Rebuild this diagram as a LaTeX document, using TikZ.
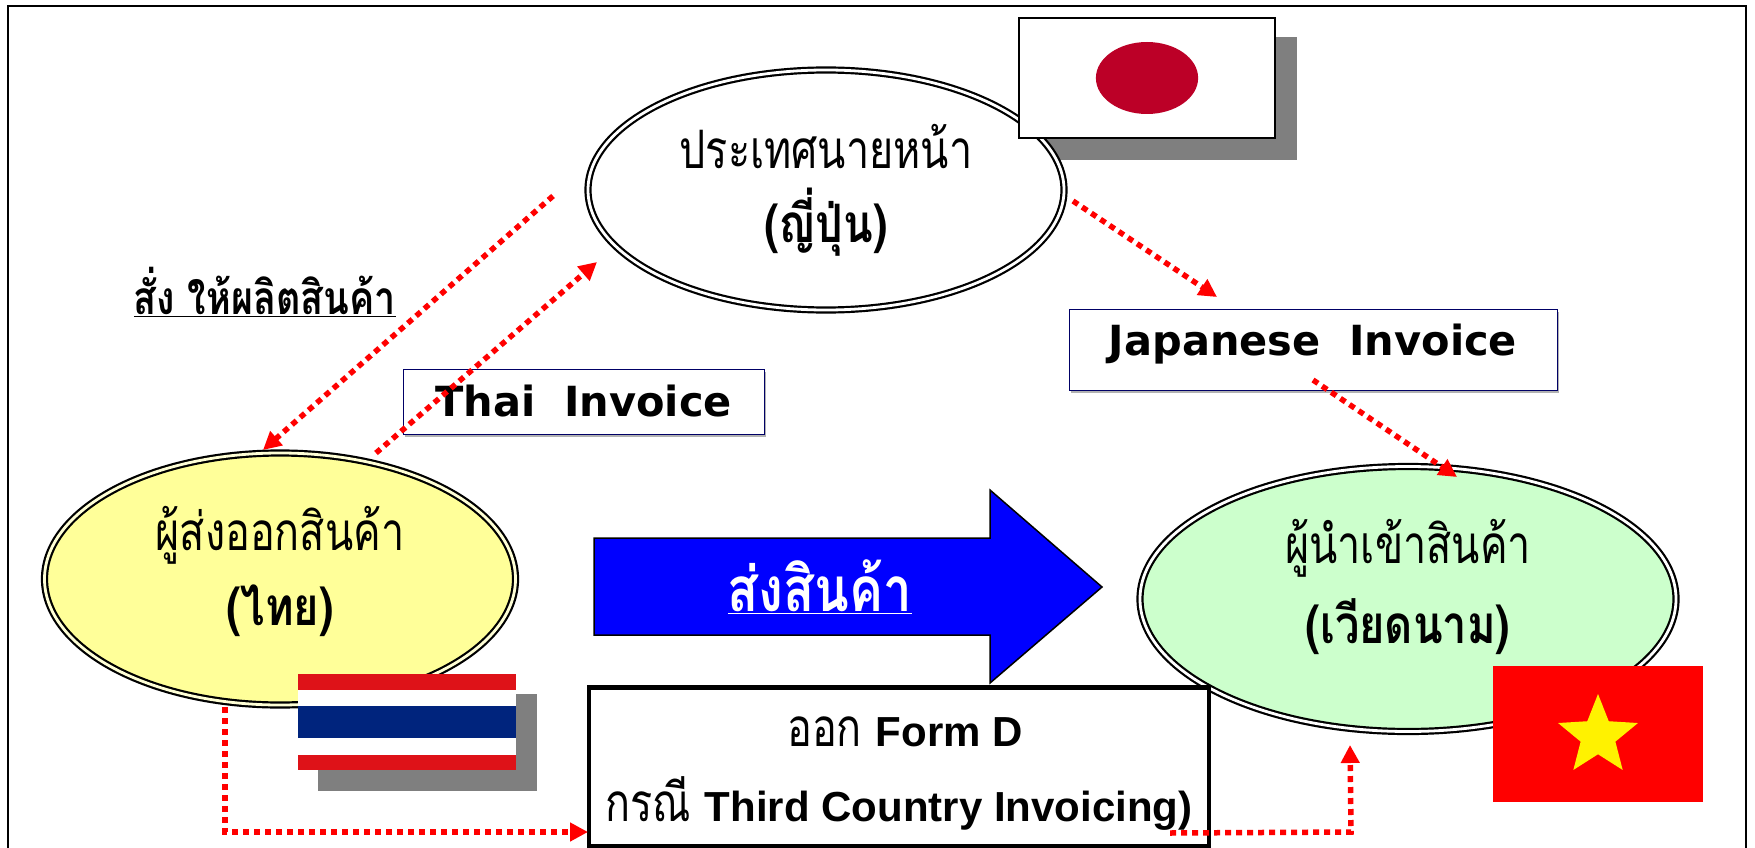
\documentclass[tikz,border=0pt]{standalone}
\usepackage{fontspec}
\usepackage{xcolor}
\setmainfont{Liberation Sans}
\newfontfamily\thaifont[Script=Thai,FakeStretch=0.78,BoldFeatures={FakeStretch=0.82}]{Loma}
\newfontfamily\comicfont{DejaVu Sans}
\usetikzlibrary{arrows.meta}
\usetikzlibrary{shapes.geometric}
\usetikzlibrary{shadows}
\definecolor{thai_red}{HTML}{DE1218}
\definecolor{thai_blue}{HTML}{00247D}
\definecolor{japan_red}{HTML}{BC0027}
\definecolor{shadow_grey}{HTML}{7F7F7F}
\definecolor{export_fill}{HTML}{FFFF99}
\definecolor{import_fill}{HTML}{CCFFCC}
\newcommand{\thaitext}{\thaifont\fontsize{53}{60}\selectfont}
\newcommand{\latintext}{\fontsize{42}{50}\selectfont\bfseries}
\tikzset{
    country/.style = {ellipse, draw=black, line width=2.2pt, double distance=2.8pt, align=center, inner sep=0pt, font=\thaitext},
    invoice/.style = {rectangle, draw=blue!40!black, very thin, fill=white, inner sep=0pt, font=\comicfont\bfseries\fontsize{41.5}{50}\selectfont, drop shadow={shadow xshift=2pt, shadow yshift=-3pt, opacity=0.3, fill=black}},
    flag_part/.style = {rectangle, inner sep=0pt, draw=none},
    dots/.style = {draw=red, line width=5.5pt, dash pattern=on 6pt off 5pt, -{Triangle[length=18pt,width=18pt]}}
}
\begin{document}
\begin{tikzpicture}[x=1pt,y=-1pt]
    \useasboundingbox (0,0) rectangle (1755,848);
    \draw [line width=1.5pt] (8,860) -- (8,6) -- (1746,6) -- (1746,860);
    % japan
    \node [flag_part, fill=shadow_grey, minimum width=259pt, minimum height=123pt] (japan_shadow) at (1167.5,98.5) {};
    \node [country, fill=white, minimum width=476pt, minimum height=240pt] (japan) at (826,190) {ประเทศนายหน้า\\[14pt]\textbf{(ญี่ปุ่น)}};
    \node [flag_part, fill=white, draw=black, line width=1.6pt, minimum width=256pt, minimum height=120pt] (japan_flag) at (1147,78) {};
    \node [flag_part, circle, fill=japan_red, minimum size=72pt, xscale=1.42] (japan_sun) at (1147,78) {};
    % thailand
    \node [country, fill=export_fill, double=export_fill!40, minimum width=471pt, minimum height=252pt] (thai) at (280,579) {ผู้ส่งออกสินค้า\\[15pt]\textbf{(ไทย)}\rule[-26pt]{0pt}{1pt}};
    \node [flag_part, fill=shadow_grey, minimum width=219pt, minimum height=97pt] (thai_shadow) at (427.5,742.5) {};
    \node [flag_part, fill=thai_red, minimum width=218pt, minimum height=96pt] (thai_flag) at (407,722) {};
    \node [flag_part, fill=white, minimum width=218pt, minimum height=65pt] (thai_white) at (407,722) {};
    \node [flag_part, fill=thai_blue, minimum width=218pt, minimum height=32pt] (thai_band) at (407,722) {};
    % vietnam
    \node [country, fill=import_fill, minimum width=536pt, minimum height=265pt] (viet) at (1408,599) {ผู้นำเข้าสินค้า\\[20pt]\textbf{(เวียดนาม)}\rule[-36pt]{0pt}{1pt}};
    \node [flag_part, fill=red, minimum width=210pt, minimum height=136pt] (viet_flag) at (1598,734) {};
    \node [flag_part, star, star points=5, star point ratio=2.3, fill=yellow, minimum size=84pt] (viet_star) at (1598,736) {};
    % shipment
    \draw [fill=blue, line width=1.5pt] (594,538) -- (990,538) -- (990,490) -- (1102,587) -- (990,683) -- (990,635) -- (594,635) -- cycle;
    \node [white, font=\thaifont\bfseries\fontsize{62}{70}\selectfont] (ship) at (820,587) {\underline{ส่งสินค้า}};
    % form d
    \node [rectangle, draw=black, line width=4.5pt, fill=white, minimum width=620pt, minimum height=159pt, inner sep=0pt, align=center] (form) at (899,767) {\rule{0pt}{43pt}\hspace{12pt}{\thaitext ออก }{\latintext Form D}\\[29pt]{\thaitext กรณี }{\latintext Third Country Invoicing)}\hspace{10pt}};
    % invoices
    \node [invoice, minimum width=361pt, minimum height=65pt] (thai_invoice) at (583.5,401.5) {Thai\ \ Invoice};
    \node [invoice, minimum width=488pt, minimum height=81pt, text depth=20pt] (japan_invoice) at (1313,349.5) {Japanese\ \ Invoice};
    \node [font=\thaifont\bfseries\fontsize{46}{50}\selectfont] (order) at (265,292) {\underline{สั่ง ให้ผลิตสินค้า}};
    % connectors
    \coordinate (order_start) at (553,196);
    \coordinate (order_end) at (263,450);
    \coordinate (thai_start) at (376,453);
    \coordinate (thai_end) at (597,262);
    \coordinate (japan_start) at (1073,201);
    \coordinate (japan_end) at (1217,297);
    \coordinate (viet_start) at (1313,380);
    \coordinate (viet_end) at (1457,477);
    \coordinate (form_start) at (225,707);
    \coordinate (form_corner) at (225,832);
    \coordinate (form_end) at (588,832);
    \coordinate (out_start) at (1170,833);
    \coordinate (out_corner) at (1351,832);
    \coordinate (out_end) at (1350,745);
    \draw [dots] (order_start) -- (order_end);
    \draw [dots] (thai_start) -- (thai_end);
    \draw [dots] (japan_start) -- (japan_end);
    \draw [dots] (viet_start) -- (viet_end);
    \draw [dots] (form_start) -- (form_corner) -- (form_end);
    \draw [dots] (out_start) -- (out_corner) -- (out_end);
\end{tikzpicture}
\end{document}
